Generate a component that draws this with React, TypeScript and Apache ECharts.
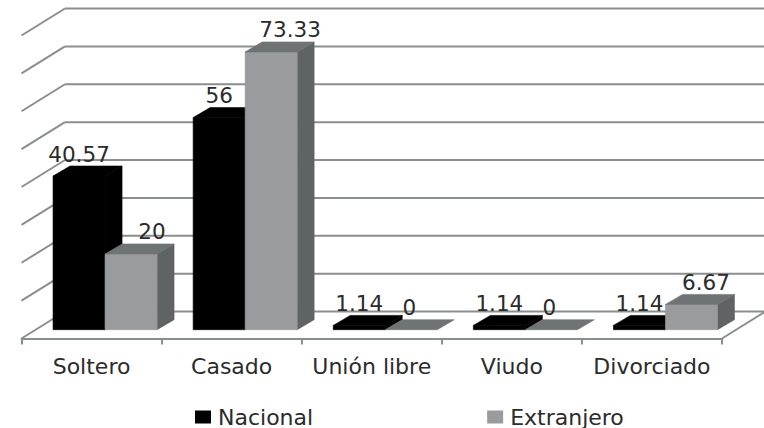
import React, { useEffect, useRef } from "react";
import * as echarts from "echarts";

const categories = ["Soltero", "Casado", "Unión libre", "Viudo", "Divorciado"];
const nacional = [40.57, 56, 1.14, 1.14, 1.14];
const extranjero = [20, 73.33, 0, 0, 6.67];
const gridValues = [0, 10, 20, 30, 40, 50, 60, 70, 80];

const FONT = "'DejaVu Sans', sans-serif";
const TEXT = "#2b2b2b";
const LINE = "#8b8e8e";
const BAR_W = 52;
const DEPTH_X = 17;
const DEPTH_Y = 10;
const PLANE_X = 13.5;
const PLANE_Y = 8.8;
const WALL_X = 43.5;
const WALL_Y = 27;
const LABEL_NUDGE_NACIONAL = [0, 0, 0, 0, 0];
const LABEL_NUDGE_EXTRANJERO = [21, 19, -2, -2, 14.5];

function wallItem(params: any, api: any) {
  const [cx, y] = api.coord([0, api.value(1)]);
  const cw = api.size([1, 0])[0];
  const left = cx - cw / 2;
  const right = left + cw * categories.length;
  const style = { stroke: LINE, lineWidth: 2, fill: "none" };
  const children: any[] = [
    { type: "line", shape: { x1: left, y1: y, x2: left + WALL_X, y2: y - WALL_Y }, style },
    { type: "line", shape: { x1: left + WALL_X, y1: y - WALL_Y, x2: right + WALL_X, y2: y - WALL_Y }, style },
  ];
  if (api.value(1) === 0) {
    children.push({ type: "line", shape: { x1: right, y1: y, x2: right + WALL_X, y2: y - WALL_Y }, style });
  }
  return { type: "group", children };
}

function barItem(seriesIndex: number, nudges: number[], front: string, side: string, top: string) {
  return (params: any, api: any) => {
    const value = api.value(1);
    const index = api.value(0);
    const [cx, yTop0] = api.coord([index, value]);
    const [, yBase0] = api.coord([index, 0]);
    const x0 = cx + PLANE_X - BAR_W + seriesIndex * BAR_W;
    const x1 = x0 + BAR_W;
    const yT = yTop0 - PLANE_Y;
    const yB = yBase0 - PLANE_Y;
    const children: any[] = [];
    if (value > 0) {
      children.push({
        type: "polygon",
        shape: { points: [[x1, yT], [x1 + DEPTH_X, yT - DEPTH_Y], [x1 + DEPTH_X, yB - DEPTH_Y], [x1, yB]] },
        style: { fill: side, stroke: side, lineWidth: 0.6 },
      });
      children.push({
        type: "rect",
        shape: { x: x0, y: yT, width: BAR_W, height: yB - yT },
        style: { fill: front, stroke: front, lineWidth: 0.6 },
      });
    }
    children.push({
      type: "polygon",
      shape: { points: [[x0, yT], [x0 + DEPTH_X, yT - DEPTH_Y], [x1 + DEPTH_X, yT - DEPTH_Y], [x1, yT]] },
      style: { fill: top, stroke: top, lineWidth: 0.6 },
    });
    children.push({
      type: "text",
      z2: 10,
      style: {
        text: String(value),
        x: (x0 + x1) / 2 + nudges[index],
        y: yT - DEPTH_Y - 1,
        textAlign: "center",
        textVerticalAlign: "bottom",
        fill: TEXT,
        font: `21.5px ${FONT}`,
      },
    });
    return { type: "group", children };
  };
}

export default function App() {
  const ref = useRef<HTMLDivElement>(null);
  useEffect(() => {
    document.body.style.margin = "0";
    const chart = echarts.init(ref.current!, undefined, { renderer: "svg" });
    chart.setOption({
      animation: false,
      backgroundColor: "#ffffff",
      grid: { left: 21.5, right: 42, top: 35.5, bottom: 89.5 },
      legend: {
        data: ["Nacional", "Extranjero"],
        left: 190,
        top: 401,
        icon: "rect",
        itemWidth: 16,
        itemHeight: 13,
        itemGap: 174,
        textStyle: { fontFamily: FONT, fontSize: 22, color: TEXT, padding: [0, 0, 0, 2] },
        selectedMode: false,
      },
      xAxis: {
        type: "category",
        data: categories,
        axisLine: { lineStyle: { color: LINE, width: 2 } },
        axisTick: { show: true, length: 6, lineStyle: { color: LINE, width: 2 } },
        axisLabel: { fontFamily: FONT, fontSize: 22, color: TEXT, margin: 17, interval: 0 },
      },
      yAxis: { type: "value", min: 0, max: 80, interval: 10, show: false, splitLine: { show: false } },
      series: [
        {
          name: "wall",
          type: "custom",
          silent: true,
          data: gridValues.map((v) => [0, v]),
          encode: { x: 0, y: 1 },
          renderItem: wallItem,
          z: 1,
        },
        {
          name: "Nacional",
          type: "custom",
          data: nacional.map((v, i) => [i, v]),
          encode: { x: 0, y: 1 },
          itemStyle: { color: "#000000" },
          renderItem: barItem(0, LABEL_NUDGE_NACIONAL, "#000000", "#000000", "#000000"),
          z: 3,
        },
        {
          name: "Extranjero",
          type: "custom",
          data: extranjero.map((v, i) => [i, v]),
          encode: { x: 0, y: 1 },
          itemStyle: { color: "#999b9c" },
          renderItem: barItem(1, LABEL_NUDGE_EXTRANJERO, "#999b9c", "#5f6363", "#6f7374"),
          z: 4,
        },
      ],
    });
    return () => chart.dispose();
  }, []);
  return <div ref={ref} style={{ position: "fixed", left: 0, top: 0, width: 764, height: 428 }} />;
}
